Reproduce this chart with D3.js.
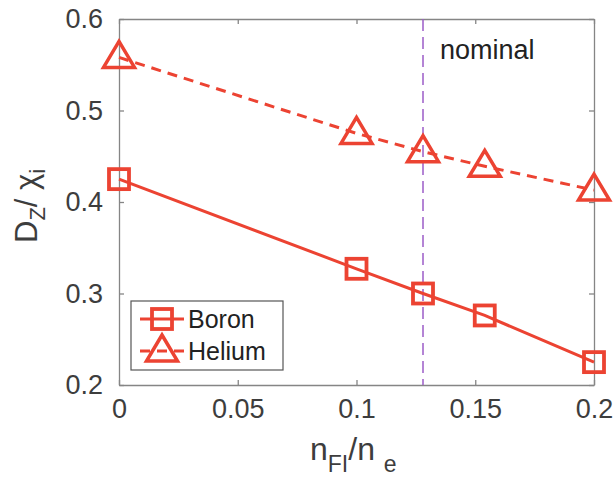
<!DOCTYPE html>
<meta charset="utf-8">
<style>
body { margin: 0; background: #fff; }
svg { font-family: "Liberation Sans", Arial, sans-serif; }
</style>
<svg id="chart" width="613" height="477"></svg>
<script src="https://cdn.jsdelivr.net/npm/d3@7"></script>
<script>
// data
var fraction = [0, 0.1, 0.128, 0.154, 0.2];
var boron = [0.425, 0.327, 0.300, 0.276, 0.225];
var helium = [0.558, 0.475, 0.455, 0.439, 0.413];
var nominalX = 0.128;
var xTicks = [0, 0.05, 0.1, 0.15, 0.2];
var yTicks = [0.2, 0.3, 0.4, 0.5, 0.6];
var seriesNames = ["Boron", "Helium"];

var svg = d3.select("#chart");
var margin = {left: 119, top: 19, right: 19, bottom: 92};
var width = 613 - margin.left - margin.right,
    height = 477 - margin.top - margin.bottom;

var red = "#ec4332", axisColor = "#858585", textColor = "#3d3d3d";

var x = d3.scaleLinear().domain([0, 0.2]).range([0, width]);
var y = d3.scaleLinear().domain([0.2, 0.6]).range([height, 0]);

var g = svg.append("g").attr("transform", "translate(" + margin.left + "," + margin.top + ")");

// axes with inward ticks
function styleAxis(sel) {
  sel.selectAll("path").attr("stroke", axisColor).attr("stroke-width", 1.3);
  sel.selectAll("line").attr("stroke", axisColor).attr("stroke-width", 1.3);
  sel.selectAll("text").attr("fill", textColor).attr("font-size", 27);
}
var fmt = function(d) { return d === 0 ? "0" : d3.format("")(d); };

g.append("g").attr("transform", "translate(0," + height + ")")
  .call(d3.axisBottom(x).tickValues(xTicks).tickFormat(fmt).tickSizeInner(-5).tickSizeOuter(0).tickPadding(14))
  .call(styleAxis);
g.append("g")
  .call(d3.axisTop(x).tickValues(xTicks).tickFormat("").tickSizeInner(-5).tickSizeOuter(0))
  .call(styleAxis);
g.append("g")
  .call(d3.axisLeft(y).tickValues(yTicks).tickFormat(d3.format(".1f")).tickSizeInner(-5).tickSizeOuter(0).tickPadding(16))
  .call(styleAxis);
g.append("g").attr("transform", "translate(" + width + ",0)")
  .call(d3.axisRight(y).tickValues(yTicks).tickFormat("").tickSizeInner(-5).tickSizeOuter(0))
  .call(styleAxis);

// nominal line
g.append("line")
  .attr("x1", x(nominalX)).attr("x2", x(nominalX))
  .attr("y1", 0).attr("y2", height)
  .attr("stroke", "#9c5cc8").attr("stroke-width", 1.5)
  .attr("stroke-dasharray", "12,6");
g.append("text")
  .attr("x", x(nominalX) + 17).attr("y", 40)
  .attr("font-size", 27).attr("fill", "#222")
  .text("nominal");

var line = d3.line().x(function(d) { return x(d[0]); }).y(function(d) { return y(d[1]); });
var boronPts = d3.zip(fraction, boron);
var heliumPts = d3.zip(fraction, helium);

g.append("path").datum(boronPts).attr("d", line)
  .attr("fill", "none").attr("stroke", red).attr("stroke-width", 3);
g.append("path").datum(heliumPts).attr("d", line)
  .attr("fill", "none").attr("stroke", red).attr("stroke-width", 3)
  .attr("stroke-dasharray", "10,7");

function square(sel) {
  sel.append("rect").attr("x", -10).attr("y", -10).attr("width", 20).attr("height", 20)
    .attr("fill", "none").attr("stroke", red).attr("stroke-width", 3.8);
}
function triangle(sel) {
  sel.append("path").attr("d", "M0,-16L15.5,10L-15.5,10Z")
    .attr("fill", "none").attr("stroke", red).attr("stroke-width", 3.5)
    .attr("stroke-linejoin", "miter");
}

g.selectAll(".sq").data(boronPts).enter().append("g")
  .attr("transform", function(d) { return "translate(" + x(d[0]) + "," + y(d[1]) + ")"; })
  .call(square);
g.selectAll(".tri").data(heliumPts).enter().append("g")
  .attr("transform", function(d) { return "translate(" + x(d[0]) + "," + y(d[1]) + ")"; })
  .call(triangle);

// legend
var legend = svg.append("g").attr("transform", "translate(131,301)");
legend.append("rect").attr("width", 152).attr("height", 69)
  .attr("fill", "#fff").attr("stroke", "#555").attr("stroke-width", 1.2);
seriesNames.forEach(function(name, i) {
  var row = legend.append("g").attr("transform", "translate(0," + (18 + i * 32) + ")");
  row.append("line").attr("x1", 9).attr("x2", 53).attr("y1", 0).attr("y2", 0)
    .attr("stroke", red).attr("stroke-width", 3)
    .attr("stroke-dasharray", i === 1 ? "10,7" : null);
  var m = row.append("g").attr("transform", "translate(31,0)");
  if (i === 0) m.call(square); else m.call(triangle);
  row.append("text").attr("x", 57).attr("y", 9)
    .attr("font-size", 25).attr("fill", "#222").text(name);
});

// x label
var xl = svg.append("text").attr("x", 310).attr("y", 460)
  .attr("font-size", 32).attr("fill", textColor);
xl.append("tspan").text("n");
xl.append("tspan").attr("font-size", 23).attr("dy", 12).text("FI");
xl.append("tspan").attr("dy", -12).text("/n ");
xl.append("tspan").attr("font-size", 23).attr("dy", 12).text("e");

// y label
var yl = svg.append("text").attr("transform", "translate(37,243) rotate(-90)")
  .attr("font-size", 31).attr("fill", textColor);
yl.append("tspan").text("D");
yl.append("tspan").attr("font-size", 22).attr("dy", 8).text("Z");
yl.append("tspan").attr("dy", -8).text("/ \u03c7");
yl.append("tspan").attr("font-size", 22).attr("dy", 8).text("i");
</script>
